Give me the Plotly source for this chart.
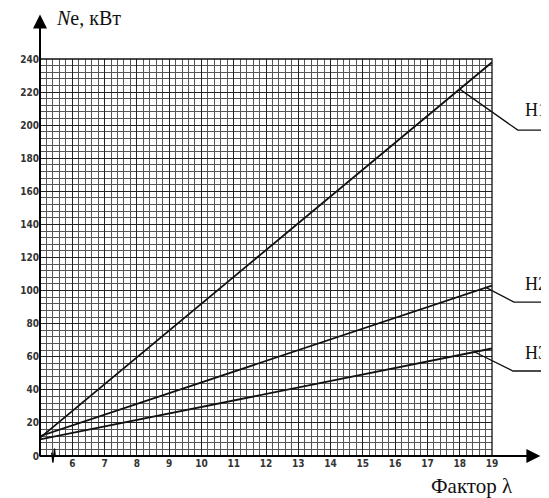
import plotly.graph_objects as go

# ---- data ----
lam = [5, 19]                       # factor lambda, ends of the lines
h1 = [11, 238]                      # Ne, kW for H1
h2 = [12, 103]                      # Ne, kW for H2
h3 = [10, 65]                       # Ne, kW for H3
series_names = ["H1", "H2", "H3"]
x_tick_vals = list(range(5, 20))
x_tick_text = [""] + [str(v) for v in range(6, 20)]
y_tick_vals = list(range(0, 241, 20))
y_tick_text = [str(v) for v in y_tick_vals]

X0, X1 = 5, 19
Y0, Y1 = 0, 240

# leader-line anchor x positions on each line, elbow points, label positions
leader_anchor_x = [18.0, 18.82, 18.46]
leader_elbow = [(19.8, 197), (19.68, 93), (19.65, 51.4)]
leader_end_x = 20.9
label_pos = [(19.97, 209), (19.97, 104), (19.97, 62)]


def px(x):
    return (x - X0) / (X1 - X0)


def py(y):
    return (y - Y0) / (Y1 - Y0)


def on_line(vals, x):
    return vals[0] + (vals[1] - vals[0]) * (x - lam[0]) / (lam[1] - lam[0])


fig = go.Figure()
all_series = [h1, h2, h3]
for name, vals in zip(series_names, all_series):
    fig.add_trace(go.Scatter(x=lam, y=vals, mode="lines", name=name,
                             line=dict(color="#111111", width=1.8),
                             showlegend=False, hoverinfo="skip"))

shapes = []
# frame (top and right edges)
shapes.append(dict(type="rect", xref="paper", yref="paper", x0=0, y0=0, x1=1, y1=1,
                   line=dict(color="#111111", width=1.3), layer="above"))
# extended y axis line
shapes.append(dict(type="line", xref="paper", yref="paper", x0=0, y0=0, x1=0, y1=1.09,
                   line=dict(color="#000000", width=2)))
# extended x axis line
shapes.append(dict(type="line", xref="paper", yref="paper", x0=0, y0=0, x1=1.085, y1=0,
                   line=dict(color="#000000", width=2)))
# axis break mark
shapes.append(dict(type="path", xref="paper", yref="paper",
                   path="M %f %f L %f %f L %f %f L %f %f" % (
                       px(5.36), py(2), px(5.40), py(-4), px(5.45), py(4.5), px(5.47), py(0)),
                   line=dict(color="#000000", width=1.3)))
# leader lines
for vals, ax, (ex, ey) in zip(all_series, leader_anchor_x, leader_elbow):
    ay = on_line(vals, ax)
    shapes.append(dict(type="path", xref="paper", yref="paper",
                       path="M %f %f L %f %f L %f %f" % (px(ax), py(ay), px(ex), py(ey),
                                                         px(leader_end_x), py(ey)),
                       line=dict(color="#111111", width=1.3)))

annotations = []
for name, (lx, ly) in zip(series_names, label_pos):
    annotations.append(dict(x=px(lx), y=py(ly), xref="paper", yref="paper", text=name,
                            showarrow=False, xanchor="left", yanchor="middle",
                            font=dict(family="Liberation Serif", size=18, color="#111111")))
# arrow heads
annotations.append(dict(x=0, y=1.112, xref="paper", yref="paper", text="", showarrow=True,
                        ax=0, ay=14, arrowhead=2, arrowsize=1.4, arrowwidth=2,
                        arrowcolor="#000000", standoff=0))
annotations.append(dict(x=1.107, y=0, xref="paper", yref="paper", text="", showarrow=True,
                        ax=-14, ay=0, arrowhead=2, arrowsize=1.4, arrowwidth=2,
                        arrowcolor="#000000", standoff=0))
# axis titles
annotations.append(dict(x=0.03, y=1.07, xref="paper", yref="paper",
                        text="<i>N</i>e, кВт", showarrow=False, xanchor="left", yanchor="bottom",
                        font=dict(family="Liberation Serif", size=20, color="#111111")))
annotations.append(dict(x=1.05, y=-0.04, xref="paper", yref="paper",
                        text="Фактор λ", showarrow=False, xanchor="right", yanchor="top",
                        font=dict(family="Liberation Serif", size=21, color="#111111")))

tick_font = dict(family="DejaVu Sans Condensed", size=10, color="#333333", weight="bold")

# the page body has an 8px margin, so the figure is 8px smaller and its
# left/top margins are 8px smaller, keeping the plot area where the reference has it
fig.update_layout(
    width=541, height=490,
    margin=dict(l=25, r=57, t=51, b=42),
    paper_bgcolor="white", plot_bgcolor="white",
    shapes=shapes, annotations=annotations,
    xaxis=dict(range=[X0, X1], tickmode="array", tickvals=x_tick_vals, ticktext=x_tick_text,
               showgrid=True, gridcolor="#222222", gridwidth=1.3, zeroline=False,
               showline=False, ticks="", tickfont=tick_font,
               minor=dict(tickmode="linear", tick0=5, dtick=0.2, showgrid=True,
                          gridcolor="#555555", gridwidth=0.8)),
    yaxis=dict(range=[Y0, Y1], tickmode="array", tickvals=y_tick_vals, ticktext=y_tick_text,
               showgrid=True, gridcolor="#222222", gridwidth=1.3, zeroline=False,
               showline=False, ticks="", tickfont=tick_font,
               minor=dict(tickmode="linear", tick0=0, dtick=4, showgrid=True,
                          gridcolor="#555555", gridwidth=0.8)),
)

fig.write_html("out.html")
